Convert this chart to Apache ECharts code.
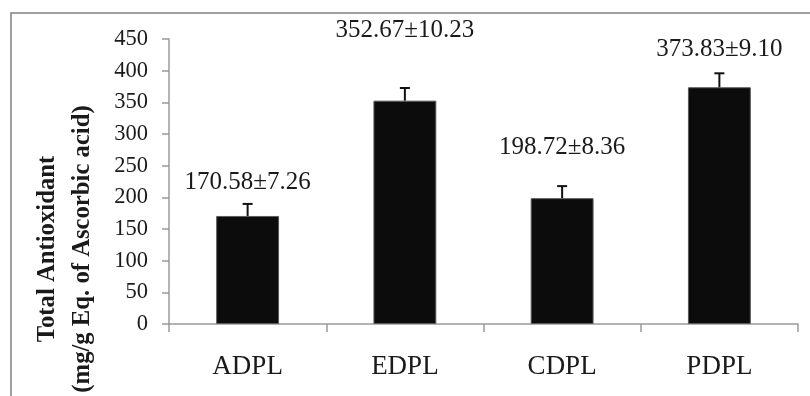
<!DOCTYPE html>
<html>
<head>
<meta charset="utf-8">
<script src="https://cdn.jsdelivr.net/npm/echarts@6/dist/echarts.min.js"></script>
<style>html,body{margin:0;padding:0;background:#fff;}#c{width:810px;height:396px;}</style>
</head>
<body>
<div id="c"></div>
<script>
// Data
var categories = ['ADPL', 'EDPL', 'CDPL', 'PDPL'];
var values = [170.58, 352.67, 198.72, 373.83];
var reportedSD = [7.26, 10.23, 8.36, 9.10];
// error bar heights as drawn in the picture (axis units)
var errorDrawn = [19, 20, 19, 22];
// vertical positions (axis units) of the value annotations, as placed in the picture
var labelY = [224, 464, 278, 433];
var yTicks = [0, 50, 100, 150, 200, 250, 300, 350, 400, 450];

var serif = '"Liberation Serif", "Times New Roman", serif';
var labelTexts = values.map(function (v, i) {
  return v.toFixed(2) + '±' + reportedSD[i].toFixed(2);
});

var chart = echarts.init(document.getElementById('c'));
chart.setOption({
  animation: false,
  backgroundColor: '#fff',
  grid: { left: 169, right: 12, top: 39, bottom: 72 },
  xAxis: {
    type: 'category',
    data: categories,
    boundaryGap: true,
    axisLine: { lineStyle: { color: '#9a9a9a', width: 1.5 } },
    axisTick: { show: true, alignWithLabel: false, interval: 0, length: 8, lineStyle: { color: '#9a9a9a', width: 1.5 } },
    axisLabel: { fontFamily: serif, fontSize: 27, color: '#1a1a1a', margin: 29 }
  },
  yAxis: {
    type: 'value',
    min: yTicks[0],
    max: yTicks[yTicks.length - 1],
    interval: 50,
    splitLine: { show: false },
    axisLine: { show: true, lineStyle: { color: '#9a9a9a', width: 1.5 } },
    axisTick: { show: true, length: 7, lineStyle: { color: '#9a9a9a', width: 1.5 } },
    axisLabel: { fontFamily: serif, fontSize: 22.5, color: '#1a1a1a', margin: 21 }
  },
  graphic: [
    {
      type: 'rect',
      shape: { x: 11, y: 13, width: 830, height: 420 },
      style: { fill: 'none', stroke: '#808080', lineWidth: 1.5 },
      silent: true
    },
    {
      type: 'text',
      x: 65,
      y: 249,
      rotation: Math.PI / 2,
      style: {
        text: 'Total Antioxidant\n(mg/g Eq. of Ascorbic acid)',
        font: 'bold 24.7px ' + serif,
        fill: '#1a1a1a',
        align: 'center',
        verticalAlign: 'middle',
        lineHeight: 35
      }
    }
  ],
  series: [
    {
      type: 'bar',
      data: values,
      barWidth: '40%',
      itemStyle: { color: '#0c0c0c', borderColor: '#5a5a5a', borderWidth: 1 },
      z: 2
    },
    {
      type: 'custom',
      z: 3,
      data: values.map(function (v, i) { return [i, v, v + errorDrawn[i]]; }),
      renderItem: function (params, api) {
        var x = api.value(0);
        var base = api.coord([x, api.value(1)]);
        var top = api.coord([x, api.value(2)]);
        var hw = 5;
        return {
          type: 'group',
          children: [
            { type: 'line', shape: { x1: base[0], y1: base[1], x2: top[0], y2: top[1] }, style: { stroke: '#111', lineWidth: 2 } },
            { type: 'line', shape: { x1: top[0] - hw, y1: top[1], x2: top[0] + hw, y2: top[1] }, style: { stroke: '#111', lineWidth: 2 } }
          ]
        };
      }
    },
    {
      type: 'custom',
      z: 4,
      clip: false,
      data: labelY.map(function (y, i) { return [i, y]; }),
      renderItem: function (params, api) {
        var p = api.coord([api.value(0), api.value(1)]);
        return {
          type: 'text',
          x: p[0],
          y: p[1],
          style: {
            text: labelTexts[params.dataIndex],
            font: '25px ' + serif,
            fill: '#1a1a1a',
            align: 'center',
            verticalAlign: 'middle'
          }
        };
      }
    }
  ]
});
</script>
</body>
</html>
